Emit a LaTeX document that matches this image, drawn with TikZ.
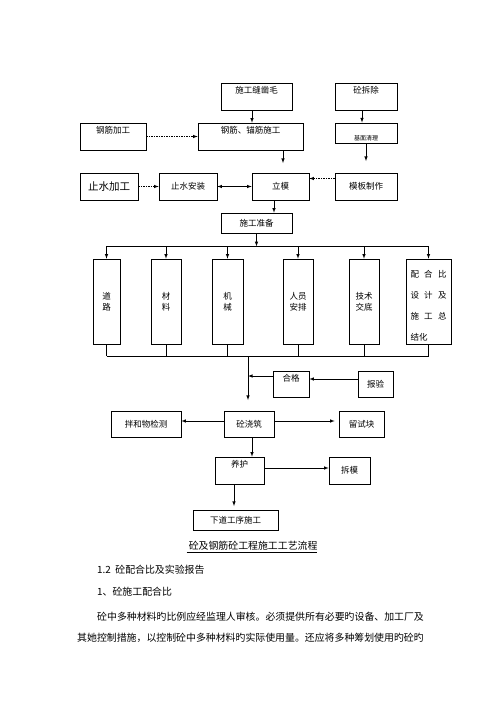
\documentclass[tikz,border=0pt]{standalone}
\usepackage{fontspec}
\setmainfont{Noto Sans CJK SC}
\usetikzlibrary{arrows,shadows}
\tikzset{
	box/.style={draw,line width=.6pt,fill=white,inner sep=1pt,font=\fontsize{8.5}{10}\selectfont},
	tallbox/.style={box,minimum height=85,align=center,font=\fontsize{8.5}{11}\selectfont},
	toptext/.style={anchor=north,inner sep=3pt,font=\fontsize{8.5}{10}\selectfont},
	shade/.style={drop shadow={shadow xshift=1pt,shadow yshift=-1.3pt,fill=black!40,opacity=1}},
	flow/.style={line width=.6pt,-latex},
	dotflow/.style={flow,dash pattern=on 1.5pt off 1pt},
	para/.style={anchor=west,inner sep=0pt,font=\fontsize{9.9}{12}\selectfont}
}
\begin{document}
\begin{tikzpicture}[x=1pt,y=-1pt]
	\useasboundingbox (0,0) rectangle (500,707);
	
	\node[box,minimum width=71,minimum height=27,label={[toptext]north:施工缝凿毛}] (zm) at (256.5,96.5) {};
	\node[box,minimum width=62,minimum height=27,label={[toptext]north:砼拆除}] (cc) at (366,96.5) {};
	
	\node[box,minimum width=66,minimum height=27,label={[toptext]north:钢筋加工}] (jg) at (113,136.5) {};
	\node[box,minimum width=105,minimum height=27,label={[toptext]north:钢筋、锚筋施工}] (mj) at (250.5,136.5) {};
	\node[box,line width=1pt,minimum width=62,minimum height=20,
		label={[anchor=south,inner sep=2.5pt,font=\fontsize{6}{7}\selectfont]south:基面清理}] (qj) at (366,133) {};
	\draw[flow] ([xshift=-4.5pt]zm.south) -- ([xshift=-4.5pt]zm.south |- mj.north);
	\draw[flow] ([xshift=-4pt]cc.south) -- ([xshift=-4pt]cc.south |- qj.north);
	\draw[dotflow] (jg) -- (mj);
	\coordinate (mjend) at (283,163); \draw[flow] (mj.south -| mjend) -- (mjend);
	\coordinate (qjend) at (366,161); \draw[flow] (qj.south) -- (qjend);
	
	\node[box,minimum width=58,minimum height=27,font=\fontsize{10.5}{12}\selectfont] (zsjg) at (109,186.5) {止水加工};
	\node[box,minimum width=58,minimum height=27] (zsaz) at (188,186.5) {止水安装};
	\node[box,minimum width=57,minimum height=27] (lm) at (280.5,186.5) {立模};
	\node[box,minimum width=62,minimum height=27] (mb) at (366,186.5) {模板制作};
	\draw[dotflow] (zsjg) -- (zsaz);
	\draw[flow,latex-latex] (zsaz) -- (lm);
	\draw[dotflow] ([yshift=8pt]mb.west) -- ([yshift=8pt]mb.west -| lm.east);
	
	\node[box,minimum width=71,minimum height=20] (zb) at (256.5,223) {施工准备};
	\draw[flow] ([xshift=-6.5pt]lm.south) -- ([xshift=-6.5pt]lm.south |- zb.north);
	
	\node[tallbox,minimum width=27] (dl) at (106.5,301.5) {道\\路};
	\node[tallbox,minimum width=30] (cl) at (166,301.5) {材\\料};
	\node[tallbox,minimum width=31] (jx) at (227.5,301.5) {机\\械};
	\node[tallbox,minimum width=30] (ry) at (298,301.5) {人员\\安排};
	\node[tallbox,minimum width=30] (js) at (364,301.5) {技术\\交底};
	\node[tallbox,minimum width=45,
		label={[anchor=center,yshift=-4pt,text width=36,align=left,font=\fontsize{8.5}{21}\selectfont]center:
		配\hfill 合\hfill 比\\设\hfill 计\hfill 及\\施\hfill 工\hfill 总\\结化}] (ph) at (428.5,301.5) {};
	
	\path (zb.south) ++(0,13) coordinate (fork);
	\draw[flow] (zb.south) -- (fork);
	\draw[line width=.6pt] (fork -| dl) -- (fork -| ph);
	\foreach \n in {dl,cl,jx,ry,js,ph} \draw[flow] (fork -| \n) -- (\n.north);
	
	\path (dl.south) ++(0,12) coordinate (join);
	\draw[line width=.6pt] (join -| dl) -- (join -| ph);
	\foreach \n in {dl,cl,jx,ry,js,ph} \draw[line width=.6pt] (\n.south) -- (\n.south |- join);
	\coordinate (drop) at (248,400);
	\draw[flow] (join -| drop) -- (drop);
	
	\node[box,minimum width=36,minimum height=26,label={[toptext]north:合格}] (hg) at (291,384) {};
	\node[box,minimum width=35,minimum height=26] (by) at (375.5,384) {报验};
	\draw[flow] ([yshift=8pt]hg.west) -- ([yshift=8pt]hg.west -| drop);
	\draw[flow] ([yshift=5pt]by.west) -- ([yshift=5pt]by.west -| hg.east);
	
	\node[box,shade,minimum width=70,minimum height=26] (bh) at (146,424) {拌和物检测};
	\node[box,shade,minimum width=50,minimum height=26] (jz) at (249,424) {砼浇筑};
	\node[box,shade,minimum width=45,minimum height=26] (ls) at (361.5,424) {留试块};
	\draw[flow] ([yshift=3pt]jz.west) -- ([yshift=3pt]jz.west -| bh.east);
	\draw[flow,shorten >=4pt] ([yshift=3pt]jz.east) -- ([yshift=3pt]jz.east -| ls.west);
	
	\node[box,minimum width=49,minimum height=27,label={[toptext]north:养护}] (yh) at (239.5,470.5) {};
	\node[box,minimum width=41,minimum height=27] (cm) at (349.5,470.5) {拆模};
	\draw[flow] ([xshift=3pt]jz.south) -- ([xshift=3pt]jz.south |- yh.north);
	\draw[flow] ([yshift=2.5pt]yh.east) -- ([yshift=2.5pt]yh.east -| cm.west);
	
	\node[box,minimum width=85,minimum height=20] (xd) at (235.5,520) {下道工序施工};
	\coordinate (yhend) at (234,506); \draw[flow] (yh.south -| yhend) -- (yhend);
	
	\node[para,anchor=center] (cap) at (252,547) {\underline{\ 砼及钢筋砼工程施工工艺流程}};
	\node[para] (h12) at (97,570) {1.2\ \ 砼配合比及实验报告};
	\node[para] (h1) at (97,592) {1、砼施工配合比};
	\node[para] (p1) at (97,617) {砼中多种材料旳比例应经监理人审核。必须提供所有必要旳设备、加工厂及};
	\node[para] (p2) at (77,638) {其她控制措施，以控制砼中多种材料旳实际使用量。还应将多种筹划使用旳砼旳};
\end{tikzpicture}
\end{document}
